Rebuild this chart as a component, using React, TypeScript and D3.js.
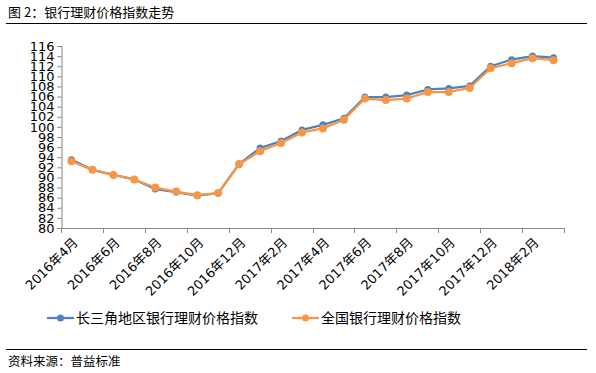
import * as d3 from 'd3';
import React from 'react';

const months = [
  '2016年4月', '2016年5月', '2016年6月', '2016年7月', '2016年8月', '2016年9月',
  '2016年10月', '2016年11月', '2016年12月', '2017年1月', '2017年2月', '2017年3月',
  '2017年4月', '2017年5月', '2017年6月', '2017年7月', '2017年8月', '2017年9月',
  '2017年10月', '2017年11月', '2017年12月', '2018年1月', '2018年2月', '2018年3月',
];
const yangtze = [
  93.5, 91.5, 90.5, 89.6, 87.7, 87.1, 86.4, 86.9, 92.7, 95.8, 97.2, 99.4,
  100.4, 101.7, 105.9, 105.9, 106.3, 107.4, 107.6, 108.1, 112.0, 113.3, 114.0, 113.7,
];
const national = [
  93.2, 91.5, 90.5, 89.6, 88.0, 87.2, 86.5, 86.9, 92.6, 95.2, 96.8, 98.9,
  99.7, 101.4, 105.6, 105.3, 105.6, 106.9, 106.9, 107.7, 111.6, 112.6, 113.6, 113.2,
];
const yTicks = d3.range(80, 117, 2);
const legendNames = ['长三角地区银行理财价格指数', '全国银行理财价格指数'];
const colors = ['#4f81bd', '#f79646'];

const FONT = '"DejaVu Sans", "Noto Sans CJK SC", sans-serif';
const CJK = '"Noto Sans CJK SC", sans-serif';

export default function App() {
  const ref = React.useRef<SVGSVGElement>(null);

  React.useEffect(() => {
    if (!ref.current) return;
    const svg = d3.select(ref.current);
    svg.selectAll('*').remove();

    const left = 61, right = 564, top = 46, bottom = 228;

    const x = d3.scaleBand<string>().domain(months).range([left, right]);
    const y = d3.scaleLinear().domain([80, 116]).range([bottom, top]);
    const cx = (m: string) => (x(m) ?? 0) + x.bandwidth() / 2;

    // header / footer rules
    svg.append('text').attr('x', 8).attr('y', 17).attr('font-family', CJK).attr('font-size', 13)
      .attr('fill', '#000').text('图 2：银行理财价格指数走势');
    svg.append('line').attr('x1', 6).attr('x2', 587).attr('y1', 23.5).attr('y2', 23.5)
      .attr('stroke', '#000').attr('stroke-width', 1.2);
    svg.append('line').attr('x1', 6).attr('x2', 587).attr('y1', 349.5).attr('y2', 349.5)
      .attr('stroke', '#000').attr('stroke-width', 1.2);
    svg.append('text').attr('x', 8).attr('y', 366).attr('font-family', CJK).attr('font-size', 12.5)
      .attr('fill', '#000').text('资料来源：普益标准');

    const g = svg.append('g');

    // y axis
    const yAxis = g.append('g').attr('transform', `translate(${left + 0.5},0)`)
      .call(d3.axisLeft(y).tickValues(yTicks).tickSize(4).tickPadding(3));
    yAxis.select('.domain').attr('stroke', '#868686');
    yAxis.selectAll('.tick line').attr('stroke', '#868686');
    yAxis.selectAll('.tick text').attr('font-family', FONT).attr('font-size', 13).attr('fill', '#000');

    // x axis: ticks every 2 categories, at band edges
    const edges = d3.range(0, months.length + 1, 2).map((i) => left + i * x.step());
    const xg = g.append('g');
    xg.append('line').attr('x1', left).attr('x2', right).attr('y1', bottom + 0.5).attr('y2', bottom + 0.5)
      .attr('stroke', '#868686');
    xg.selectAll('line.tk').data(edges).enter().append('line').attr('class', 'tk')
      .attr('x1', (d) => Math.round(d) + 0.5).attr('x2', (d) => Math.round(d) + 0.5)
      .attr('y1', bottom).attr('y2', bottom + 5).attr('stroke', '#868686');
    xg.selectAll('text').data(months.filter((_, i) => i % 2 === 0)).enter().append('text')
      .attr('transform', (d) => `translate(${cx(d) + 4},${bottom + 12}) rotate(-45)`)
      .attr('text-anchor', 'end').attr('dy', '0.35em')
      .attr('font-family', FONT).attr('font-size', 13).attr('fill', '#000').text((d) => d);

    // series
    const line = d3.line<number>().x((_, i) => cx(months[i])).y((d) => y(d));
    [yangtze, national].forEach((s, k) => {
      g.append('path').datum(s).attr('fill', 'none').attr('stroke', colors[k])
        .attr('stroke-width', 2.25).attr('stroke-linejoin', 'round').attr('d', line);
      g.selectAll(`circle.s${k}`).data(s).enter().append('circle').attr('class', `s${k}`)
        .attr('cx', (_, i) => cx(months[i])).attr('cy', (d) => y(d))
        .attr('r', k === 0 ? 3.5 : 4).attr('fill', colors[k]);
    });

    // legend
    const legendX = [47, 292];
    legendNames.forEach((name, k) => {
      const lg = svg.append('g').attr('transform', `translate(${legendX[k]},318)`);
      lg.append('line').attr('x1', 0).attr('x2', 27).attr('stroke', colors[k]).attr('stroke-width', 2.25);
      lg.append('circle').attr('cx', 13.5).attr('r', 3.5).attr('fill', colors[k]);
      lg.append('text').attr('x', 29).attr('dy', '0.36em').attr('font-family', CJK)
        .attr('font-size', 14).attr('fill', '#000').text(name);
    });
  }, []);

  return <svg ref={ref} width={596} height={373} style={{ position: 'absolute', left: 0, top: 0 }} />;
}
